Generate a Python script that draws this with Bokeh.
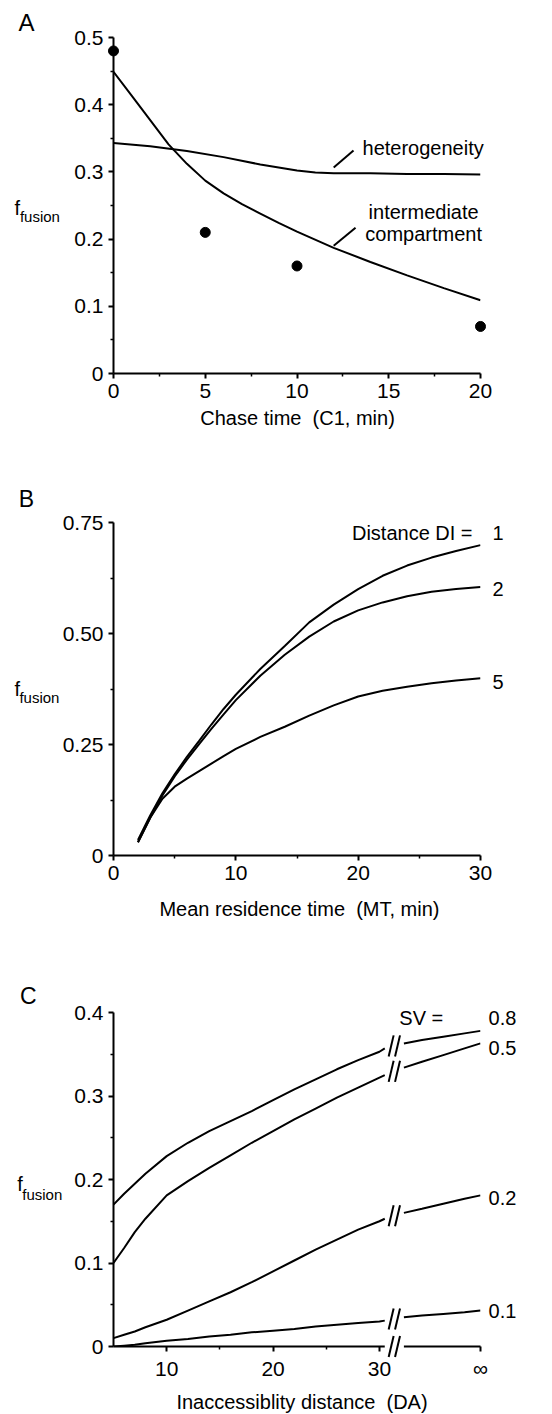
from bokeh.plotting import figure
from bokeh.models import Range1d, FixedTicker, CustomJSTickFormatter
from bokeh.layouts import column
from bokeh.embed import file_html
from bokeh.resources import INLINE
from bokeh.core.properties import value

FONT = "Liberation Sans"
FS = "20px"
NB = "\u00a0"

# ---------------- Panel A data ----------------
a_chase_time = [0, 5, 10, 20]
a_f_measured = [0.48, 0.21, 0.16, 0.07]
a_ic_time = [0, 1, 2, 3, 4, 5, 6, 7, 8, 9, 10, 12, 14, 16, 18, 20]
a_ic_f = [0.449, 0.413, 0.377, 0.341, 0.312, 0.287, 0.268, 0.252, 0.238, 0.224,
          0.211, 0.187, 0.166, 0.146, 0.127, 0.109]
a_het_time = [0, 2, 4, 6, 8, 10, 11, 12, 14, 16, 18, 20]
a_het_f = [0.343, 0.338, 0.331, 0.322, 0.311, 0.302, 0.299, 0.298, 0.298, 0.297, 0.297, 0.296]
a_xticks = [0, 5, 10, 15, 20]
a_xlabels = ["0", "5", "10", "15", "20"]
a_yticks = [0, 0.1, 0.2, 0.3, 0.4, 0.5]
a_ylabels = ["0", "0.1", "0.2", "0.3", "0.4", "0.5"]

# ---------------- Panel B data ----------------
b_mt = [2, 3, 4, 5, 6, 7, 8, 9, 10, 12, 14, 16, 18, 20, 22, 24, 26, 28, 30]
b_di1 = [0.035, 0.090, 0.140, 0.183, 0.222, 0.258, 0.295, 0.330, 0.362, 0.420,
         0.472, 0.525, 0.565, 0.600, 0.630, 0.653, 0.671, 0.686, 0.699]
b_di2 = [0.030, 0.085, 0.135, 0.178, 0.216, 0.251, 0.285, 0.318, 0.350, 0.405,
         0.452, 0.493, 0.527, 0.552, 0.570, 0.584, 0.594, 0.600, 0.605]
b_di5 = [0.030, 0.085, 0.128, 0.155, 0.173, 0.190, 0.207, 0.224, 0.240, 0.267,
         0.290, 0.315, 0.338, 0.358, 0.371, 0.380, 0.388, 0.394, 0.399]
b_di_names = ["1", "2", "5"]
b_xticks = [0, 10, 20, 30]
b_xlabels = ["0", "10", "20", "30"]
b_yticks = [0, 0.25, 0.5, 0.75]
b_ylabels = ["0", "0.25", "0.50", "0.75"]

# ---------------- Panel C data ----------------
c_da = [5, 6, 7, 8, 10, 12, 14, 16, 18, 20, 22, 24, 26, 28, 30, 30.5,
        32.3, 34, 36, 38, 39.5]
c_sv08 = [0.170, 0.183, 0.195, 0.207, 0.228, 0.244, 0.258, 0.270, 0.282, 0.295, 0.308,
          0.320, 0.332, 0.343, 0.353, 0.357, 0.363, 0.367, 0.371, 0.375, 0.378]
c_sv05 = [0.100, 0.118, 0.137, 0.153, 0.181, 0.198, 0.214, 0.229, 0.244, 0.258, 0.272,
          0.285, 0.298, 0.310, 0.322, 0.325, 0.334, 0.341, 0.349, 0.357, 0.363]
c_sv02 = [0.010, 0.014, 0.018, 0.023, 0.032, 0.043, 0.054, 0.065, 0.077, 0.090, 0.103,
          0.116, 0.128, 0.140, 0.150, 0.153, 0.160, 0.165, 0.171, 0.177, 0.181]
c_sv01 = [0.000, 0.001, 0.002, 0.004, 0.007, 0.009, 0.012, 0.014, 0.017, 0.019, 0.021,
          0.024, 0.026, 0.028, 0.030, 0.031, 0.035, 0.037, 0.039, 0.041, 0.043]
c_sv_names = ["0.8", "0.5", "0.2", "0.1"]
c_xticks = [10, 20, 30, 39.5]
c_xlabels = ["10", "20", "30", "\u221e"]
c_yticks = [0, 0.1, 0.2, 0.3, 0.4]
c_ylabels = ["0", "0.1", "0.2", "0.3", "0.4"]
c_break_from = 30.5
c_break_to = 32.3


def fmt(tvals, tlabels):
    return CustomJSTickFormatter(args=dict(tvals=tvals, tlabels=tlabels), code="""
for (let i = 0; i < tvals.length; i++) {
  if (Math.abs(tvals[i] - tick) < 1e-6) { return tlabels[i]; }
}
return '';
""")


def make_fig(width, height, xr, yr, mbl, mbr, mbt, mbb):
    p = figure(width=width, height=height, x_range=Range1d(*xr), y_range=Range1d(*yr),
               output_backend="svg", toolbar_location=None,
               min_border_left=mbl, min_border_right=mbr,
               min_border_top=mbt, min_border_bottom=mbb)
    p.outline_line_color = None
    p.grid.visible = False
    p.background_fill_color = "white"
    p.border_fill_color = "white"
    for ax in (p.xaxis[0], p.yaxis[0]):
        ax.axis_line_width = 2
        ax.axis_line_color = "black"
        ax.major_tick_line_width = 2
        ax.major_tick_line_color = "black"
        ax.major_tick_out = 5
        ax.major_tick_in = 0
        ax.minor_tick_line_width = 1.5
        ax.minor_tick_line_color = "black"
        ax.minor_tick_out = 3
        ax.minor_tick_in = 0
        ax.major_label_text_font = FONT
        ax.major_label_text_font_size = "21px"
        ax.major_label_text_color = "black"
        ax.major_label_standoff = 5
    return p


def txt(p, x, y, text, size=FS, align="left", baseline="middle"):
    p.text(x=[x], y=[y], text=[text], text_font=value(FONT), text_font_size=value(size),
           text_align=align, text_baseline=baseline, text_color="black", level="overlay")


# ================= Panel A =================
pA = make_fig(552, 450, (0, 20), (0, 0.5), 113, 72, 37, 77)
pA.xaxis.ticker = FixedTicker(ticks=a_xticks, minor_ticks=[2.5, 7.5, 12.5, 17.5])
pA.yaxis.ticker = FixedTicker(ticks=a_yticks, minor_ticks=[0.05, 0.15, 0.25, 0.35, 0.45])
pA.xaxis.formatter = fmt(a_xticks, a_xlabels)
pA.yaxis.formatter = fmt(a_yticks, a_ylabels)
pA.line(a_ic_time, a_ic_f, line_width=2, line_color="black")
pA.line(a_het_time, a_het_f, line_width=2, line_color="black")
pA.scatter(a_chase_time, a_f_measured, size=10, color="black", level="overlay")
pA.segment(x0=[12.0, 12.0], y0=[0.3066, 0.19], x1=[13.08, 13.19], y1=[0.332, 0.217],
           line_width=2, line_color="black")
txt(pA, 13.57, 0.336, "heterogeneity")
txt(pA, 16.9, 0.241, "intermediate", align="center")
txt(pA, 16.9, 0.208, "compartment", align="center")
txt(pA, 10.03, -0.0655, "Chase time" + NB + " (C1, min)", align="center")
txt(pA, -4.74, 0.522, "A", size="24px", align="center")
txt(pA, -5.4, 0.247, "f", baseline="alphabetic")
txt(pA, -5.1, 0.2336, "fusion", size="15px", baseline="alphabetic")

# ================= Panel B =================
pB = make_fig(552, 487, (0, 30), (0, 0.75), 113, 72, 72, 82)
pB.xaxis.ticker = FixedTicker(ticks=b_xticks, minor_ticks=[5, 15, 25])
pB.yaxis.ticker = FixedTicker(ticks=b_yticks, minor_ticks=[0.125, 0.375, 0.625])
pB.xaxis.formatter = fmt(b_xticks, b_xlabels)
pB.yaxis.formatter = fmt(b_yticks, b_ylabels)
b_label_y = [0.727, 0.601, 0.39]
for ys, name, ly in zip([b_di1, b_di2, b_di5], b_di_names, b_label_y):
    pB.line(b_mt, ys, line_width=2, line_color="black")
    txt(pB, 30.99, ly, name)
txt(pB, 29.35, 0.727, "Distance DI =", align="right")
txt(pB, 15.2, -0.1216, "Mean residence time" + NB + " (MT, min)", align="center")
txt(pB, -7.11, 0.802, "B", size="23px", align="center")
txt(pB, -8.1, 0.376, "f", baseline="alphabetic")
txt(pB, -7.69, 0.356, "fusion", size="15px", baseline="alphabetic")

# ================= Panel C =================
pC = make_fig(552, 477, (5, 39.5), (0, 0.4), 110, 72, 75, 68)
pC.xaxis.ticker = FixedTicker(ticks=c_xticks, minor_ticks=[15, 25])
pC.yaxis.ticker = FixedTicker(ticks=c_yticks, minor_ticks=[0.05, 0.15, 0.25, 0.35])
pC.xaxis.formatter = fmt(c_xticks, c_xlabels)
pC.yaxis.formatter = fmt(c_yticks, c_ylabels)
pC.xaxis.axis_line_color = None

left_idx = [i for i, d in enumerate(c_da) if d <= c_break_from]
right_idx = [i for i, d in enumerate(c_da) if d >= c_break_to]
mid = (c_break_from + c_break_to) / 2.0
half_gap = (c_break_to - c_break_from) / 6.0
sdx, sdy = 0.233, 0.0126

# broken x-axis baseline
pC.segment(x0=[c_da[0], c_break_to], y0=[0, 0], x1=[c_break_from, c_da[-1]], y1=[0, 0],
           line_width=2, line_color="black", level="overlay")

break_y = [0.0]
c_label_y = [0.393, 0.357, 0.178, 0.043]
for ys, name, ly in zip([c_sv08, c_sv05, c_sv02, c_sv01], c_sv_names, c_label_y):
    pC.line([c_da[i] for i in left_idx], [ys[i] for i in left_idx],
            line_width=2, line_color="black")
    pC.line([c_da[i] for i in right_idx], [ys[i] for i in right_idx],
            line_width=2, line_color="black")
    break_y.append((ys[left_idx[-1]] + ys[right_idx[0]]) / 2.0)
    txt(pC, 40.26, ly, name)

bx0, by0, bx1, by1 = [], [], [], []
for yb in break_y:
    for cx in (mid - half_gap, mid + half_gap):
        bx0.append(cx - sdx)
        by0.append(yb - sdy)
        bx1.append(cx + sdx)
        by1.append(yb + sdy)
pC.segment(x0=bx0, y0=by0, x1=bx1, y1=by1, line_width=2, line_color="black", level="overlay")

txt(pC, 36.0, 0.393, "SV =", align="right")
txt(pC, 22.72, -0.0659, "Inaccessiblity distance" + NB + " (DA)", align="center")
txt(pC, -3.02, 0.42, "C", size="23px", align="center")
txt(pC, -4.05, 0.195, "f", baseline="alphabetic")
txt(pC, -3.58, 0.182, "fusion", size="15px", baseline="alphabetic")

layout = column(pA, pB, pC, spacing=0)
open("out.html", "w", encoding="utf-8").write(file_html(layout, INLINE))
